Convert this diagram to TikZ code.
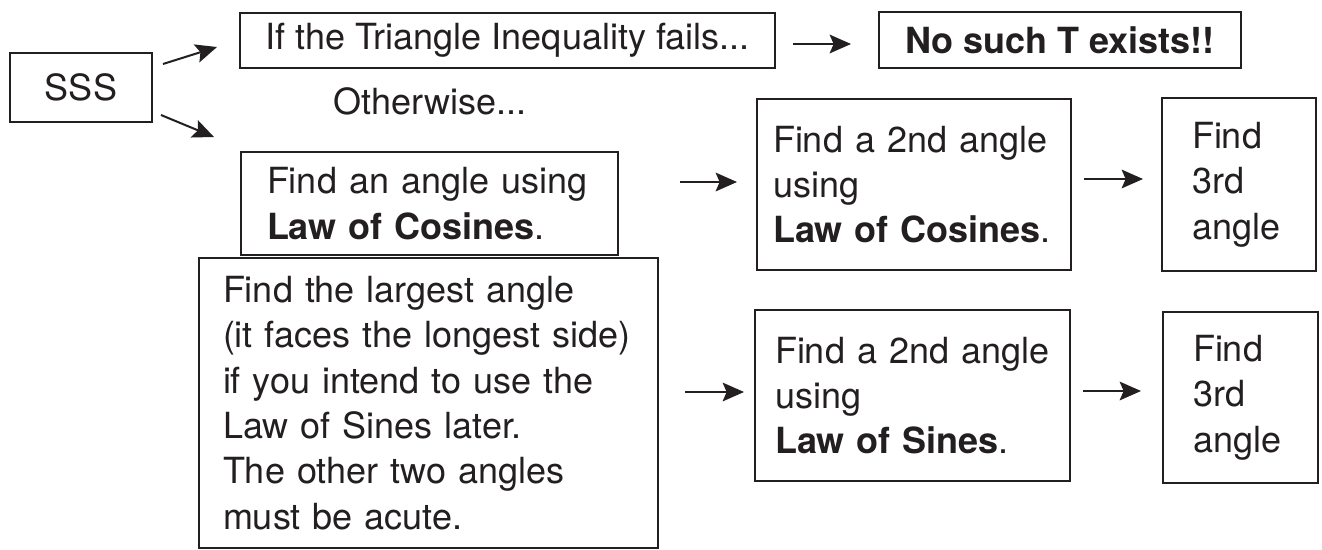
\documentclass[tikz,border=0pt]{standalone}
\usepackage{fontspec}
\setmainfont{TeX Gyre Heros}
\usetikzlibrary{arrows.meta}
\definecolor{ink}{HTML}{231F20}
\begin{document}
\begin{tikzpicture}[x=0.75pt,y=-0.75pt,
  every node/.style={font=\fontsize{27}{34}\selectfont, text=ink},
  box/.style={draw=ink, line width=1.5pt, rectangle, inner ysep=0pt},
  tbox/.style={box, align=left},
  arr/.style={draw=ink, line width=1.5pt, -{Stealth[length=16pt,width=14pt,inset=3pt]}}]
\useasboundingbox (0,0) rectangle (1322,550);
\fill[white] (0,0) rectangle (1322,550);

\node[box, minimum width=106.5pt, minimum height=51.75pt, inner xsep=0pt] (sss) at (81,87.5) {SSS};
\node[box, minimum width=401.25pt, minimum height=41.25pt, inner xsep=0pt] (tri) at (507.5,40.5) {If the Triangle Inequality fails...};
\node[box, minimum width=271.5pt, minimum height=42pt, inner xsep=0pt] (nosuch) at (1060,40) {\textbf{No such T exists!!}};
\node (other) at (430,101) {Otherwise...};

\node[tbox, text width=243.75pt, inner xsep=19.5pt, minimum height=77.25pt] (findang) at (429.5,203.5)
  {Find an angle using\\\textbf{Law of Cosines}.};
\node[tbox, text width=308.25pt, inner xsep=18pt, minimum height=217.5pt] (large) at (428.5,403)
  {Find the largest angle\\(it faces the longest side)\\if you intend to use the\\Law of Sines later.\\The other two angles\\must be acute.};

\node[tbox, text width=211.5pt, inner xsep=12pt, minimum height=128.25pt] (cos2) at (914,184.5)
  {Find a 2nd angle\\using\\\textbf{Law of Cosines}.};
\node[tbox, text width=70.5pt, inner xsep=22.5pt, minimum height=129.75pt] (third1) at (1239,184.5)
  {Find\\3rd\\angle};
\node[tbox, text width=206.25pt, inner xsep=15pt, minimum height=128.25pt] (sines) at (912.5,395.5)
  {Find a 2nd angle\\using\\\textbf{Law of Sines}.};
\node[tbox, text width=71.25pt, inner xsep=22.5pt, minimum height=128.25pt] (third2) at (1240.5,397.5)
  {Find\\3rd\\angle};

\draw[arr] ([shift={(10,12)}]sss.north east) -- ([shift={(-22,-22)}]tri.south west);
\draw[arr] ([shift={(8,-8)}]sss.south east) -- ([shift={(-26,-14)}]findang.north west);
\draw[arr] ([shift={(17,3.5)}]tri.east) -- ([shift={(-27,4)}]nosuch.west);
\draw[arr] ([shift={(61,-21.5)}]findang.east) -- ([shift={(-19,-2.5)}]cos2.west);
\draw[arr] ([shift={(12,-5.5)}]cos2.east) -- ([shift={(-18,-5.5)}]third1.west);
\draw[arr] ([shift={(26,-11)}]large.east) -- ([shift={(-10,-3.5)}]sines.west);
\draw[arr] ([shift={(12,-4.5)}]sines.east) -- ([shift={(-21,-6.5)}]third2.west);
\end{tikzpicture}
\end{document}
